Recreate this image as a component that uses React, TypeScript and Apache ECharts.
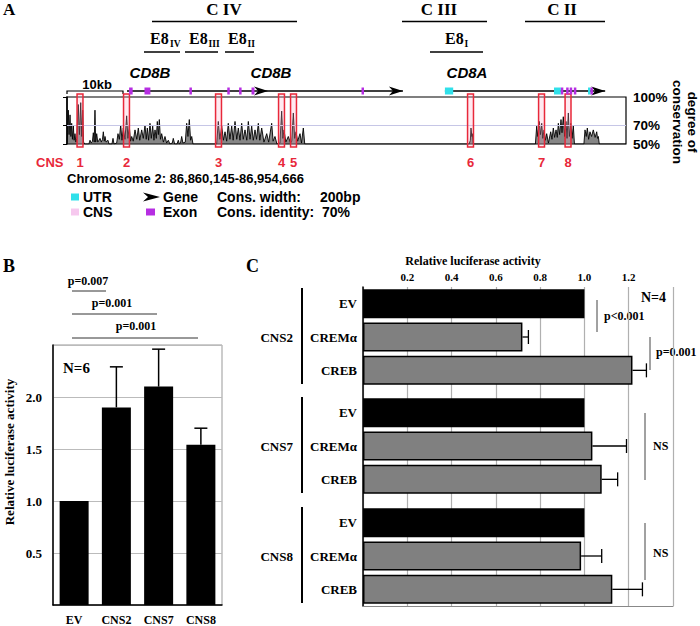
import React, { useEffect, useRef } from 'react';
import * as echarts from 'echarts';

const SERIF = '"Liberation Serif", "Times New Roman", serif';
const SANS = '"Liberation Sans", Arial, sans-serif';
const RED = '#e8283a';

// ---------- Panel A data (positions in kb from 86,860,145) ----------
const regionLengthKb = 94.52;
const conservation: [number, number][] = [
  [0, 50], [0.1, 62], [0.22, 86], [0.35, 60], [0.51, 81], [0.65, 58], [0.79, 72], [0.92, 55], [1.07, 70], [1.2, 54],
  [1.35, 61], [1.5, 52], [1.65, 56], [1.91, 92], [2.1, 60], [2.32, 94], [2.5, 58], [2.65, 86], [2.8, 52], [3.0, 50],
  [3.7, 50], [3.89, 54], [4.1, 51], [4.3, 53], [4.45, 62], [4.6, 52], [4.73, 86], [4.85, 52], [5.02, 61], [5.2, 52],
  [5.4, 54], [5.58, 56], [5.8, 52], [6.0, 55], [6.14, 63], [6.3, 53], [6.43, 58], [6.6, 52], [6.93, 54], [7.1, 50],
  [7.6, 50], [7.78, 56], [7.95, 50], [8.4, 51], [8.62, 61], [8.85, 55], [9.08, 70], [9.3, 54], [9.52, 67], [9.8, 55],
  [10.09, 80], [10.3, 56], [10.53, 69], [10.75, 53], [10.94, 58], [11.2, 53], [11.5, 65], [11.8, 55], [12.06, 67], [12.3, 54],
  [12.63, 65], [12.9, 56], [13.19, 70], [13.4, 55], [13.58, 67], [13.8, 54], [14.03, 72], [14.25, 56], [14.49, 69], [14.7, 54],
  [14.88, 65], [15.1, 56], [15.27, 74], [15.45, 60], [15.61, 76], [15.8, 55], [16.01, 61], [16.3, 52], [16.57, 58], [16.85, 51],
  [17.13, 54], [17.4, 50], [17.8, 51], [17.97, 56], [18.2, 50], [18.6, 50], [18.82, 54], [19.0, 50], [19.2, 51], [19.39, 58],
  [19.6, 51], [20.0, 52], [20.24, 72], [20.45, 58], [20.68, 76], [20.9, 54], [21.09, 58], [21.3, 50],
  [25.3, 50], [25.58, 74], [25.85, 55], [26.16, 69], [26.45, 54], [26.72, 63], [27.0, 53], [27.27, 72], [27.55, 55], [27.85, 69],
  [28.1, 54], [28.41, 74], [28.7, 55], [28.97, 67], [29.25, 54], [29.54, 72], [29.8, 55], [30.1, 65], [30.4, 54], [30.66, 74],
  [30.95, 55], [31.23, 69], [31.5, 54], [31.79, 65], [32.05, 55], [32.35, 72], [32.6, 54], [32.92, 67], [33.3, 52], [33.77, 61],
  [34.1, 52], [34.61, 72], [34.85, 53], [35.17, 58], [35.5, 50], [36.0, 51], [36.3, 85], [36.5, 56], [36.69, 65], [37.0, 52],
  [37.42, 58], [37.8, 51], [38.0, 53], [38.27, 83], [38.5, 56], [38.72, 63], [39.0, 53], [39.4, 61], [39.65, 51], [39.96, 67],
  [40.2, 50],
  [68.0, 50], [68.2, 54], [68.31, 67], [68.45, 58], [68.53, 61], [68.7, 50],
  [79.2, 50], [79.42, 69], [79.6, 58], [79.86, 74], [80.05, 60], [80.27, 72], [80.45, 56], [80.66, 65], [80.9, 54], [81.11, 61],
  [81.4, 51], [81.79, 63], [82.0, 55], [82.23, 67], [82.45, 57], [82.69, 65], [82.9, 57], [83.08, 72], [83.3, 60], [83.53, 76],
  [83.7, 62], [83.92, 79], [84.15, 58], [84.38, 74], [84.55, 56], [84.77, 83], [84.95, 58], [85.17, 72], [85.4, 56], [85.61, 70],
  [85.8, 50],
  [87.4, 50], [87.59, 65], [87.8, 58], [87.98, 67], [88.2, 55], [88.43, 63], [88.7, 58], [88.99, 65], [89.3, 57], [89.57, 63],
  [89.7, 56], [89.84, 58], [90.0, 50], [94.52, 50],
];
const cnsPositions = [2.2, 10.06, 25.62, 36.27, 38.3, 68.23, 80.24, 84.72];
const cnsNames = ['1', '2', '3', '4', '5', '6', '7', '8'];
const geneSpans: [number, number][] = [[10.15, 56.8], [63.9, 91.0]];
const geneArrowTips = [34.0, 56.8, 91.0];
const exons: [number, number][] = [
  [10.5, 11.1], [13.1, 14.1], [20.7, 21.0], [27.1, 27.4], [29.1, 29.4], [31.2, 31.7], [49.8, 50.1],
  [83.5, 83.9], [84.4, 84.7], [85.0, 85.3], [85.7, 86.0], [88.5, 88.8],
];
const utrs: [number, number][] = [[63.9, 65.3], [82.35, 83.5], [88.1, 88.5]];
const consTickValues = [50, 70, 100];

// ---------- Panel B data ----------
const bCategories = ['EV', 'CNS2', 'CNS7', 'CNS8'];
const bValues = [1.0, 1.9, 2.1, 1.54];
const bErrors = [0, 0.39, 0.36, 0.16];

// ---------- Panel C data ----------
const cCategories = ['EV', 'CREMα', 'CREB'];
const cGroups = ['CNS2', 'CNS7', 'CNS8'];
const cns2Values = [1.0, 0.72, 1.217];
const cns7Values = [1.0, 1.036, 1.078];
const cns8Values = [1.0, 0.985, 1.126];
const cns2Errors = [0, 0.027, 0.063];
const cns7Errors = [0, 0.154, 0.072];
const cns8Errors = [0, 0.093, 0.136];

const T = (x: number, y: number, text: string, font: string, extra: any = {}) => ({
  type: 'text', x, y, silent: true,
  style: { text, font, fill: '#000', align: 'left', verticalAlign: 'middle', ...extra },
});
const L = (x1: number, y1: number, x2: number, y2: number, w = 1.5, c = '#000') => ({
  type: 'line', silent: true, shape: { x1, y1, x2, y2 }, style: { stroke: c, lineWidth: w },
});
const R = (x: number, y: number, width: number, height: number, fill: string) => ({
  type: 'rect', silent: true, shape: { x, y, width, height }, style: { fill },
});

const fSerif = (s: number) => `bold ${s}px ${SERIF}`;
const fSans = (s: number) => `bold ${s}px ${SANS}`;

function buildOption() {
  const cGroupTops = [287, 396, 506];
  const cGroupH = 100;
  const groupVals = [cns2Values, cns7Values, cns8Values];
  const groupErrs = [cns2Errors, cns7Errors, cns8Errors];

  const graphic: any[] = [
    // Panel A header
    T(3, 9, 'A', fSerif(17)),
    T(224, 9, 'C IV', fSerif(17), { align: 'center' }), L(152, 21.5, 297, 21.5),
    T(150, 38, 'E8', fSerif(16)), T(170, 44, 'IV', fSerif(9.5)), L(144, 52, 180, 52),
    T(189, 38, 'E8', fSerif(16)), T(208.5, 44, 'III', fSerif(9.5)), L(185, 52, 218, 52),
    T(228, 38, 'E8', fSerif(16)), T(247.5, 44, 'II', fSerif(9.5)), L(225, 52, 254, 52),
    T(439, 9, 'C III', fSerif(17), { align: 'center' }), L(402, 21.5, 487, 21.5),
    T(445, 38, 'E8', fSerif(16)), T(464.5, 44, 'I', fSerif(9.5)), L(430, 52, 483, 52),
    T(562, 9, 'C II', fSerif(17), { align: 'center' }), L(525, 21.5, 605, 21.5),
    T(150, 72, 'CD8B', `italic bold 15px ${SANS}`, { align: 'center' }),
    T(271, 72, 'CD8B', `italic bold 15px ${SANS}`, { align: 'center' }),
    T(467, 72, 'CD8A', `italic bold 15px ${SANS}`, { align: 'center' }),
    T(97, 84, '10kb', fSans(13), { align: 'center' }),
    { type: 'polyline', silent: true, shape: { points: [[67, 94], [67, 91], [123, 91], [123, 94]] }, style: { stroke: '#000', lineWidth: 1.2, fill: 'none' } },
    T(36, 162, 'CNS', fSans(13), { fill: RED }),
    T(67, 178, 'Chromosome 2: 86,860,145-86,954,666', fSans(13)),
    { type: 'text', x: 685, y: 122, rotation: -Math.PI / 2, silent: true,
      style: { text: 'degree of\nconservation', font: fSans(13.5), fill: '#000', align: 'center', verticalAlign: 'middle', lineHeight: 15 } },
    // legend
    R(71, 193.5, 8, 7, '#30e0ea'), T(83, 197, 'UTR', fSans(14)),
    R(71, 208.5, 8, 7, '#f6c8ee'), T(83, 212, 'CNS', fSans(14)),
    { type: 'polygon', silent: true, shape: { points: [[160, 197], [143, 192.5], [148, 197], [143, 201.5]] }, style: { fill: '#000' } },
    T(163, 197, 'Gene', fSans(14)),
    R(146, 208.5, 9, 7, '#b62ee2'), T(163, 212, 'Exon', fSans(14)),
    T(217, 197, 'Cons. width:', fSans(14)), T(320, 197, '200bp', fSans(14)),
    T(217, 212, 'Cons. identity:  70%', fSans(14)),

    // Panel B annotations
    T(3, 266, 'B', fSerif(18)),
    T(88, 281, 'p=0.007', fSerif(12), { align: 'center' }), L(72, 291, 106, 291, 1, '#333'),
    T(112, 303, 'p=0.001', fSerif(12), { align: 'center' }), L(72, 314, 157, 314, 1, '#333'),
    T(136, 326, 'p=0.001', fSerif(12), { align: 'center' }), L(72, 338, 198, 338, 1, '#333'),
    T(63, 368, 'N=6', fSerif(15)),
    { type: 'text', x: 9, y: 452, rotation: Math.PI / 2, silent: true,
      style: { text: 'Relative luciferase activity', font: fSerif(13), fill: '#000', align: 'center', verticalAlign: 'middle' } },

    // Panel C annotations
    T(246, 266, 'C', fSerif(18)),
    T(473, 261, 'Relative luciferase activity', fSerif(12), { align: 'center' }),
    T(641, 297, 'N=4', fSerif(14)),
    L(597, 300, 597, 332, 1, '#444'), T(604, 316, 'p<0.001', fSerif(12)),
    L(650, 337, 650, 370, 1, '#444'), T(656, 352, 'p=0.001', fSerif(12)),
    L(645, 413, 645, 480, 1, '#444'), T(653, 446, 'NS', fSerif(12)),
    L(645, 523, 645, 580, 1, '#444'), T(653, 553, 'NS', fSerif(12)),
  ];
  cGroups.forEach((g, i) => {
    const top = cGroupTops[i];
    graphic.push(T(293, top + cGroupH / 2, g, fSerif(13), { align: 'right' }));
    graphic.push(L(302, top + 1, 302, top + cGroupH - 3, 2));
  });

  const grids: any[] = [
    { left: 67, top: 97, width: 559, height: 47, show: true, borderColor: '#000', borderWidth: 1.2, backgroundColor: 'transparent' },
    { left: 53, top: 345, width: 169, height: 261, show: true, borderColor: '#999', borderWidth: 1 },
    { left: 363, top: 287, width: 310, height: 319 },
    ...cGroupTops.map((t) => ({ left: 363, top: t, width: 310, height: cGroupH })),
  ];

  const xAxis: any[] = [
    { gridIndex: 0, type: 'value', min: 0, max: regionLengthKb, show: false },
    { gridIndex: 1, type: 'category', data: bCategories, axisTick: { show: false },
      axisLine: { lineStyle: { color: '#000', width: 1.5 } },
      axisLabel: { color: '#000', fontFamily: SERIF, fontWeight: 'bold', fontSize: 12, margin: 9 } },
    { gridIndex: 2, type: 'value', min: 0, max: 1.4, interval: 0.2, position: 'top',
      axisLine: { show: false }, axisTick: { show: false },
      axisLabel: { color: '#000', fontFamily: SERIF, fontWeight: 'bold', fontSize: 11, margin: 5,
        formatter: (v: number) => (v <= 0.001 || v >= 1.39 ? '' : v.toFixed(1)) },
      splitLine: { show: true, lineStyle: { color: '#b0b0b0', width: 1.2 } } },
    { gridIndex: 2, type: 'value', min: 0, max: 1.4, position: 'bottom',
      axisLine: { show: true, lineStyle: { color: '#888', width: 1.2 } }, axisTick: { show: false },
      axisLabel: { show: false }, splitLine: { show: false } },
    ...cGroupTops.map((_, i) => ({ gridIndex: 3 + i, type: 'value', min: 0, max: 1.4, show: false })),
  ];

  const yAxis: any[] = [
    { gridIndex: 0, type: 'value', min: 50, max: 100, interval: 10, position: 'right',
      axisLine: { show: true, lineStyle: { color: '#000', width: 1.5 } },
      axisTick: { show: true, inside: true, length: 4, customValues: consTickValues, lineStyle: { color: '#000' } },
      axisLabel: { customValues: consTickValues, color: '#000', fontFamily: SANS, fontWeight: 'bold', fontSize: 13.5, margin: 7,
        formatter: (v: number) => (consTickValues.includes(v) ? `${v}%` : '') },
      splitLine: { show: false } },
    { gridIndex: 1, type: 'value', min: 0, max: 2.5, interval: 0.5,
      axisLine: { show: true, lineStyle: { color: '#000', width: 1.5 } }, axisTick: { show: false },
      axisLabel: { color: '#000', fontFamily: SERIF, fontWeight: 'bold', fontSize: 13, margin: 11,
        formatter: (v: number) => (v <= 0.001 || v >= 2.49 ? '' : v.toFixed(1)) },
      splitLine: { show: true, lineStyle: { color: '#bbb', width: 1.2 } } },
    { gridIndex: 2, type: 'value', min: 0, max: 1, position: 'right',
      axisLine: { show: true, lineStyle: { color: '#000', width: 1.5 } },
      axisTick: { show: false }, axisLabel: { show: false }, splitLine: { show: false } },
    ...cGroupTops.map((_, i) => ({ gridIndex: 3 + i, type: 'category', data: cCategories, inverse: true,
      axisLine: { show: false }, axisTick: { show: false },
      axisLabel: { color: '#000', fontFamily: SERIF, fontWeight: 'bold', fontSize: 13, margin: 6 } })),
  ];

  const series: any[] = [
    { type: 'line', xAxisIndex: 0, yAxisIndex: 0, data: conservation, symbol: 'none',
      lineStyle: { color: '#000', width: 0.9 }, areaStyle: { color: '#222', origin: 'start', opacity: 0.55 },
      markLine: { silent: true, symbol: 'none', label: { show: false },
        lineStyle: { color: '#c6c6e6', width: 1, type: 'solid' }, data: [{ yAxis: 70 }] } },
    { type: 'custom', xAxisIndex: 0, yAxisIndex: 0, clip: false, z: 5,
      data: cnsPositions.map((p) => [p, 100]),
      renderItem: (params: any, api: any) => {
        const x = api.value(0);
        const a = api.coord([x - 0.5, 100]);
        const b = api.coord([x + 0.5, 50]);
        return { type: 'group', children: [
          { type: 'rect', shape: { x: a[0], y: a[1] - 3, width: b[0] - a[0], height: b[1] - a[1] + 6 },
            style: { fill: 'rgba(255,170,200,0.25)', stroke: RED, lineWidth: 1.5 } },
          { type: 'text', style: { text: cnsNames[params.dataIndex], x: (a[0] + b[0]) / 2, y: b[1] + 18,
            fill: RED, font: fSans(13), align: 'center', verticalAlign: 'middle' } },
        ] };
      } },
    { type: 'custom', xAxisIndex: 0, yAxisIndex: 0, clip: false, z: 4,
      data: geneSpans,
      renderItem: (_p: any, api: any) => {
        const a = api.coord([api.value(0), 100]);
        const b = api.coord([api.value(1), 100]);
        return { type: 'line', shape: { x1: a[0], y1: a[1] - 6, x2: b[0], y2: b[1] - 6 }, style: { stroke: '#000', lineWidth: 1.6 } };
      } },
    { type: 'custom', xAxisIndex: 0, yAxisIndex: 0, clip: false, z: 4,
      data: geneArrowTips.map((t) => [t, 100]),
      renderItem: (_p: any, api: any) => {
        const a = api.coord([api.value(0), 100]);
        const y = a[1] - 6;
        return { type: 'polygon', shape: { points: [[a[0], y], [a[0] - 14, y - 4.5], [a[0] - 10, y], [a[0] - 14, y + 4.5]] }, style: { fill: '#000' } };
      } },
    ...[[utrs, '#30e0ea'], [exons, '#b62ee2']].map(([d, col]: any) => ({
      type: 'custom', xAxisIndex: 0, yAxisIndex: 0, clip: false, z: 6,
      data: d,
      renderItem: (_p: any, api: any) => {
        const a = api.coord([api.value(0), 100]);
        const b = api.coord([api.value(1), 100]);
        const w = Math.max(2.5, b[0] - a[0]);
        return { type: 'rect', shape: { x: a[0], y: a[1] - 9.5, width: w, height: 7 }, style: { fill: col } };
      } })),
    { type: 'bar', xAxisIndex: 1, yAxisIndex: 1, data: bValues, barWidth: 29, itemStyle: { color: '#000' } },
    { type: 'custom', xAxisIndex: 1, yAxisIndex: 1, z: 5,
      data: bValues.map((v, i) => [i, v, bErrors[i]]),
      renderItem: (_p: any, api: any) => {
        const e = api.value(2);
        if (!e) return { type: 'group', children: [] };
        const a = api.coord([api.value(0), api.value(1)]);
        const b = api.coord([api.value(0), api.value(1) + e]);
        return { type: 'group', children: [
          { type: 'line', shape: { x1: a[0], y1: a[1], x2: b[0], y2: b[1] }, style: { stroke: '#000', lineWidth: 1.5 } },
          { type: 'line', shape: { x1: b[0] - 6.5, y1: b[1], x2: b[0] + 6.5, y2: b[1] }, style: { stroke: '#000', lineWidth: 1.5 } },
        ] };
      } },
  ];

  groupVals.forEach((vals, g) => {
    series.push({
      type: 'bar', xAxisIndex: 4 + g, yAxisIndex: 3 + g, barWidth: 29,
      data: vals.map((v, i) => ({ value: v, itemStyle: i === 0 ? { color: '#000' } : { color: '#808080', borderColor: '#000', borderWidth: 1.5 } })),
    });
    series.push({
      type: 'custom', xAxisIndex: 4 + g, yAxisIndex: 3 + g, z: 5,
      data: vals.map((v, i) => [v, i, groupErrs[g][i]]),
      renderItem: (_p: any, api: any) => {
        const e = api.value(2);
        if (!e) return { type: 'group', children: [] };
        const a = api.coord([api.value(0), api.value(1)]);
        const b = api.coord([api.value(0) + e, api.value(1)]);
        return { type: 'group', children: [
          { type: 'line', shape: { x1: a[0], y1: a[1], x2: b[0], y2: b[1] }, style: { stroke: '#000', lineWidth: 1.3 } },
          { type: 'line', shape: { x1: b[0], y1: b[1] - 7, x2: b[0], y2: b[1] + 7 }, style: { stroke: '#000', lineWidth: 1.3 } },
        ] };
      },
    });
  });

  return {
    animation: false,
    backgroundColor: '#fff',
    textStyle: { fontFamily: SERIF },
    grid: grids,
    xAxis,
    yAxis,
    series,
    graphic: { elements: graphic },
  };
}

export default function App() {
  const ref = useRef<HTMLDivElement>(null);
  useEffect(() => {
    document.body.style.margin = '0';
    if (!ref.current) return;
    const chart = echarts.init(ref.current, undefined, { renderer: 'svg' });
    chart.setOption(buildOption() as any);
    return () => chart.dispose();
  }, []);
  return <div ref={ref} style={{ width: 700, height: 626 }} />;
}
